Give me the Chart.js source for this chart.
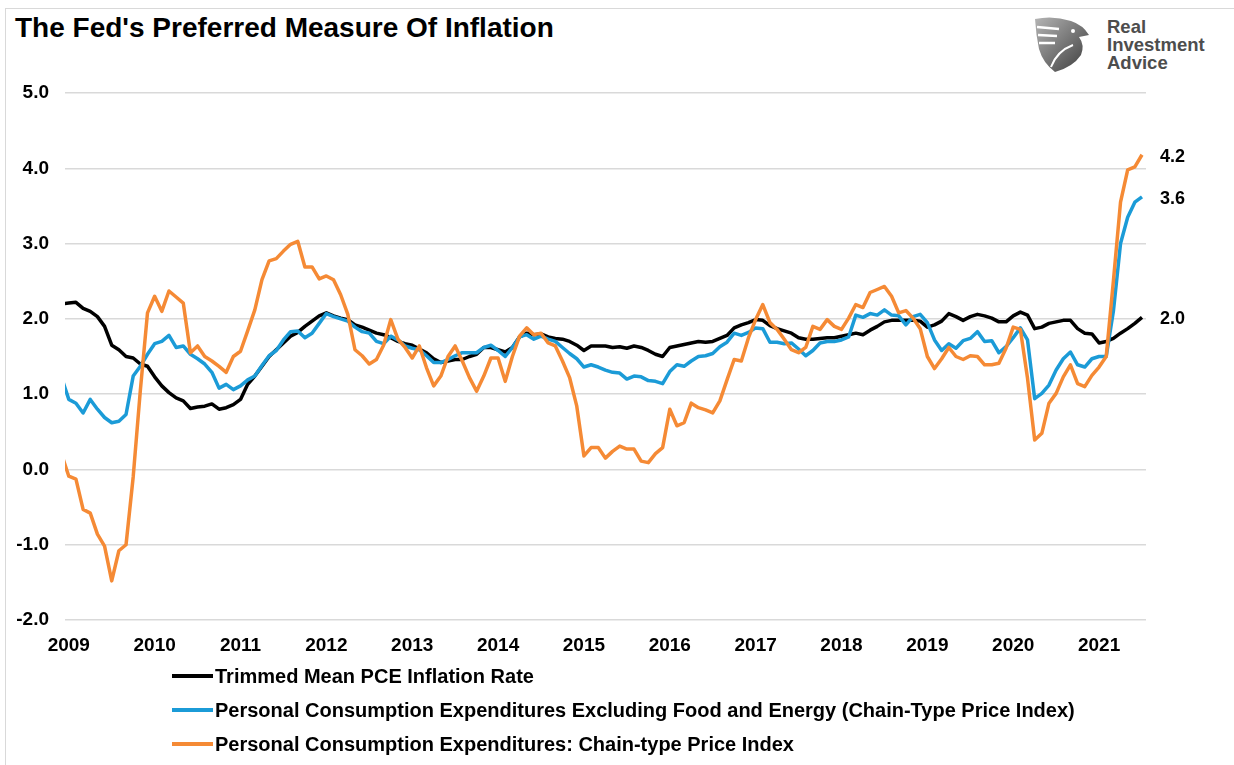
<!DOCTYPE html>
<html lang="en">
<head>
<meta charset="utf-8">
<title>The Fed's Preferred Measure Of Inflation</title>
<script src="https://cdn.jsdelivr.net/npm/chart.js@4.4.1/dist/chart.umd.min.js"></script>
<style>
    html, body { margin: 0; padding: 0; background: #fff; }
    body { width: 1234px; height: 765px; position: relative; overflow: hidden; font-family: "Liberation Sans", Arial, sans-serif; }
    #moldura { position: absolute; left: 5px; top: 8px; width: 1300px; height: 900px; border-left: 1px solid #d9d9d9; border-top: 1px solid #d9d9d9; }
    #titulo { position: absolute; left: 15px; top: 12px; font-size: 28px; line-height: 31px; font-weight: bold; color: #000; white-space: nowrap; }
    #logo { position: absolute; left: 1033px; top: 15px; }
    #logoTexto { position: absolute; left: 1107px; top: 18px; font-size: 18.5px; line-height: 18px; font-weight: bold; color: #4d4d4d; }
    #grafico { position: absolute; left: 0; top: 0; }
    #legenda { position: absolute; left: 172px; top: 659px; }
    .item { display: flex; align-items: center; height: 34px; font-size: 20px; font-weight: bold; color: #000; white-space: nowrap; }
    .amostra { width: 41px; height: 4px; margin-right: 2px; }
</style>
</head>
<body>
<div id="moldura"></div>
<div id="titulo">The Fed's Preferred Measure Of Inflation</div>

<!-- Logotipo (desenho simples) -->
<svg id="logo" width="58" height="58" viewBox="0 0 58 58">
    <defs>
        <linearGradient id="cinza" x1="0" y1="0" x2="1" y2="1">
            <stop offset="0" stop-color="#b5b5b5"/>
            <stop offset="1" stop-color="#3a3a3a"/>
        </linearGradient>
    </defs>
    <path d="M2 4 Q20 0 38 6 Q50 10 56 20 L46 22 Q52 30 48 40 Q40 52 22 57 Q10 48 6 34 Q3 20 2 4 Z" fill="url(#cinza)"/>
    <path d="M4 12 L26 14 M5 20 L24 21 M6 28 L22 28" stroke="#fff" stroke-width="2.5" fill="none"/>
    <path d="M18 52 Q24 36 40 30" stroke="#fff" stroke-width="2" fill="none"/>
    <circle cx="40" cy="16" r="2" fill="#fff"/>
</svg>
<div id="logoTexto">Real<br>Investment<br>Advice</div>

<canvas id="grafico" width="1234" height="765"></canvas>

<div id="legenda"></div>

<script>
// Rótulos do eixo X (um por ano, em janeiro)
const rotuloAnos = ['2009', '2010', '2011', '2012', '2013', '2014', '2015', '2016', '2017', '2018', '2019', '2020', '2021'];

// Nomes das séries (legenda)
const nomesSeries = [
    'Trimmed Mean PCE Inflation Rate',
    'Personal Consumption Expenditures Excluding Food and Energy (Chain-Type Price Index)',
    'Personal Consumption Expenditures: Chain-type Price Index'
];

// Séries mensais, de dez/2008 até jul/2021 (% a/a)
const mediaAparada = [
    2.20,
    2.21, 2.22, 2.14, 2.10, 2.03, 1.90, 1.65, 1.59, 1.50, 1.48, 1.40, 1.37,
    1.23, 1.11, 1.02, 0.95, 0.91, 0.81, 0.83, 0.84, 0.87, 0.80, 0.82, 0.86,
    0.93, 1.13, 1.24, 1.37, 1.50, 1.59, 1.68, 1.77, 1.82, 1.90, 1.97, 2.04,
    2.08, 2.04, 2.01, 1.99, 1.92, 1.89, 1.85, 1.81, 1.79, 1.75, 1.70, 1.67,
    1.65, 1.60, 1.55, 1.47, 1.42, 1.44, 1.46, 1.46, 1.50, 1.53, 1.62, 1.62,
    1.59, 1.56, 1.62, 1.76, 1.81, 1.79, 1.80, 1.76, 1.74, 1.73, 1.70, 1.65,
    1.58, 1.64, 1.64, 1.64, 1.62, 1.63, 1.61, 1.64, 1.62, 1.58, 1.53, 1.50,
    1.62, 1.64, 1.66, 1.68, 1.70, 1.69, 1.70, 1.74, 1.78, 1.88, 1.92, 1.95,
    1.99, 1.98, 1.91, 1.87, 1.84, 1.81, 1.75, 1.73, 1.73, 1.74, 1.75, 1.75,
    1.77, 1.79, 1.81, 1.79, 1.85, 1.90, 1.96, 1.98, 1.98, 1.98, 1.98, 1.97,
    1.89, 1.92, 1.97, 2.07, 2.03, 1.98, 2.03, 2.06, 2.04, 2.01, 1.96, 1.96,
    2.04, 2.09, 2.05, 1.87, 1.89, 1.94, 1.96, 1.98, 1.98, 1.87, 1.81, 1.80,
    1.68, 1.70, 1.74, 1.81, 1.87, 1.94, 2.02
];

const nucleoPCE = [
    1.22,
    0.93, 0.88, 0.75, 0.93, 0.80, 0.69, 0.62, 0.64, 0.73, 1.24, 1.37, 1.53,
    1.67, 1.70, 1.78, 1.62, 1.64, 1.53, 1.47, 1.40, 1.29, 1.08, 1.13, 1.06,
    1.11, 1.19, 1.24, 1.38, 1.51, 1.58, 1.72, 1.83, 1.84, 1.75, 1.81, 1.94,
    2.07, 2.03, 2.00, 1.97, 1.89, 1.83, 1.81, 1.70, 1.67, 1.77, 1.72, 1.64,
    1.61, 1.59, 1.51, 1.42, 1.42, 1.46, 1.51, 1.55, 1.55, 1.55, 1.62, 1.65,
    1.58, 1.50, 1.62, 1.76, 1.79, 1.73, 1.77, 1.73, 1.70, 1.62, 1.54, 1.47,
    1.36, 1.39, 1.36, 1.32, 1.29, 1.28, 1.20, 1.24, 1.23, 1.18, 1.17, 1.14,
    1.30, 1.39, 1.37, 1.44, 1.50, 1.51, 1.54, 1.63, 1.69, 1.81, 1.78, 1.82,
    1.88, 1.87, 1.69, 1.69, 1.67, 1.68, 1.60, 1.51, 1.58, 1.68, 1.70, 1.70,
    1.72, 1.76, 2.05, 2.02, 2.07, 2.05, 2.12, 2.05, 2.04, 1.92, 2.03, 2.06,
    1.95, 1.72, 1.58, 1.67, 1.61, 1.71, 1.74, 1.83, 1.70, 1.71, 1.55, 1.63,
    1.75, 1.88, 1.72, 0.94, 1.01, 1.12, 1.32, 1.47, 1.56, 1.39, 1.36, 1.47,
    1.50, 1.50, 2.10, 3.00, 3.35, 3.55, 3.62
];

const pceCheio = [
    0.20,
    -0.09, -0.13, -0.53, -0.58, -0.86, -1.02, -1.48, -1.08, -1.00, -0.10, 1.05, 2.08,
    2.30, 2.10, 2.37, 2.29, 2.21, 1.55, 1.64, 1.50, 1.44, 1.37, 1.29, 1.50,
    1.57, 1.84, 2.12, 2.52, 2.77, 2.80, 2.90, 2.99, 3.03, 2.69, 2.69, 2.53,
    2.57, 2.52, 2.32, 2.06, 1.59, 1.51, 1.40, 1.46, 1.65, 1.99, 1.73, 1.62,
    1.48, 1.64, 1.35, 1.11, 1.24, 1.50, 1.64, 1.44, 1.22, 1.04, 1.24, 1.48,
    1.48, 1.17, 1.50, 1.77, 1.88, 1.79, 1.81, 1.68, 1.64, 1.44, 1.22, 0.84,
    0.18, 0.29, 0.29, 0.15, 0.24, 0.31, 0.27, 0.27, 0.11, 0.09, 0.21, 0.29,
    0.80, 0.58, 0.62, 0.88, 0.82, 0.79, 0.75, 0.91, 1.19, 1.46, 1.44, 1.75,
    1.99, 2.19, 1.95, 1.86, 1.73, 1.59, 1.55, 1.62, 1.90, 1.86, 1.99, 1.90,
    1.86, 2.01, 2.19, 2.15, 2.35, 2.39, 2.43, 2.30, 2.08, 2.11, 2.01, 1.87,
    1.50, 1.34, 1.47, 1.62, 1.50, 1.46, 1.51, 1.50, 1.39, 1.39, 1.41, 1.61,
    1.89, 1.86, 1.21, 0.39, 0.48, 0.88, 1.01, 1.23, 1.39, 1.14, 1.10, 1.25,
    1.36, 1.50, 2.50, 3.55, 3.98, 4.02, 4.18
];

const fonteBase = '"Liberation Sans", Arial, Helvetica, sans-serif';

// Transforma a lista de valores em pontos {x: mês, y: valor} (mês 0 = dez/2008)
function paraPontos(valores) {
    return valores.map((v, i) => ({ x: i, y: v }));
}

// Cria um dataset de linha (para não repetir código)
function criarSerie(label, valores, cor, ordem) {
    return {
        label: label,
        data: paraPontos(valores),
        borderColor: cor,
        backgroundColor: cor,
        borderWidth: 3.5,
        pointRadius: 0,
        tension: 0,
        borderJoinStyle: 'round',
        order: ordem // laranja por cima, preto por baixo
    };
}

// Escreve o último valor de cada série à direita da linha
const rotulosFinais = {
    id: 'rotulosFinais',
    afterDatasetsDraw(chart) {
        const ctx = chart.ctx;
        ctx.save();
        ctx.font = 'bold 18px ' + fonteBase;
        ctx.fillStyle = '#000';
        ctx.textAlign = 'left';
        ctx.textBaseline = 'middle';
        chart.data.datasets.forEach((ds, k) => {
            const meta = chart.getDatasetMeta(k);
            const ultimo = meta.data[meta.data.length - 1];
            const valor = ds.data[ds.data.length - 1].y;
            ctx.fillText(valor.toFixed(1), ultimo.x + 18, ultimo.y + 2);
        });
        ctx.restore();
    }
};

const cores = ['#000000', '#1b9bd7', '#f58a35'];

const ctx = document.getElementById('grafico').getContext('2d');
const grafico = new Chart(ctx, {
    type: 'line',
    data: {
        datasets: [
            criarSerie(nomesSeries[0], mediaAparada, cores[0], 2),
            criarSerie(nomesSeries[1], nucleoPCE, cores[1], 1),
            criarSerie(nomesSeries[2], pceCheio, cores[2], 0)
        ]
    },
    options: {
        responsive: false,
        animation: false,
        devicePixelRatio: 1,
        layout: { padding: { top: 93, right: 88, bottom: 109, left: 0 } },
        plugins: {
            legend: { display: false },
            title: { display: false },
            tooltip: { enabled: false }
        },
        scales: {
            x: {
                type: 'linear',
                min: 0.47,
                max: 151.56,
                grid: { display: false },
                border: { display: false },
                afterBuildTicks: (eixo) => {
                    eixo.ticks = rotuloAnos.map((_, n) => ({ value: 1 + 12 * n }));
                },
                afterFit: (eixo) => { eixo.height = 36; },
                ticks: {
                    autoSkip: false,
                    maxRotation: 0,
                    minRotation: 0,
                    padding: 6,
                    color: '#000',
                    font: { family: fonteBase, size: 19, weight: 'bold' },
                    callback: (valor) => rotuloAnos[Math.round((valor - 1) / 12)]
                }
            },
            y: {
                min: -2,
                max: 5,
                grid: { color: '#d9d9d9', lineWidth: 1.5, drawTicks: false },
                border: { display: false },
                afterFit: (eixo) => { eixo.width = 65; },
                ticks: {
                    stepSize: 1,
                    padding: 16,
                    color: '#000',
                    font: { family: fonteBase, size: 19, weight: 'bold' },
                    callback: (valor) => valor.toFixed(1)
                }
            }
        }
    },
    plugins: [rotulosFinais]
});

// Legenda em lista vertical, como no original
const legenda = document.getElementById('legenda');
nomesSeries.forEach((nome, k) => {
    const item = document.createElement('div');
    item.className = 'item';
    const amostra = document.createElement('span');
    amostra.className = 'amostra';
    amostra.style.background = cores[k];
    const texto = document.createElement('span');
    texto.textContent = nome;
    item.appendChild(amostra);
    item.appendChild(texto);
    legenda.appendChild(item);
});
</script>
</body>
</html>
